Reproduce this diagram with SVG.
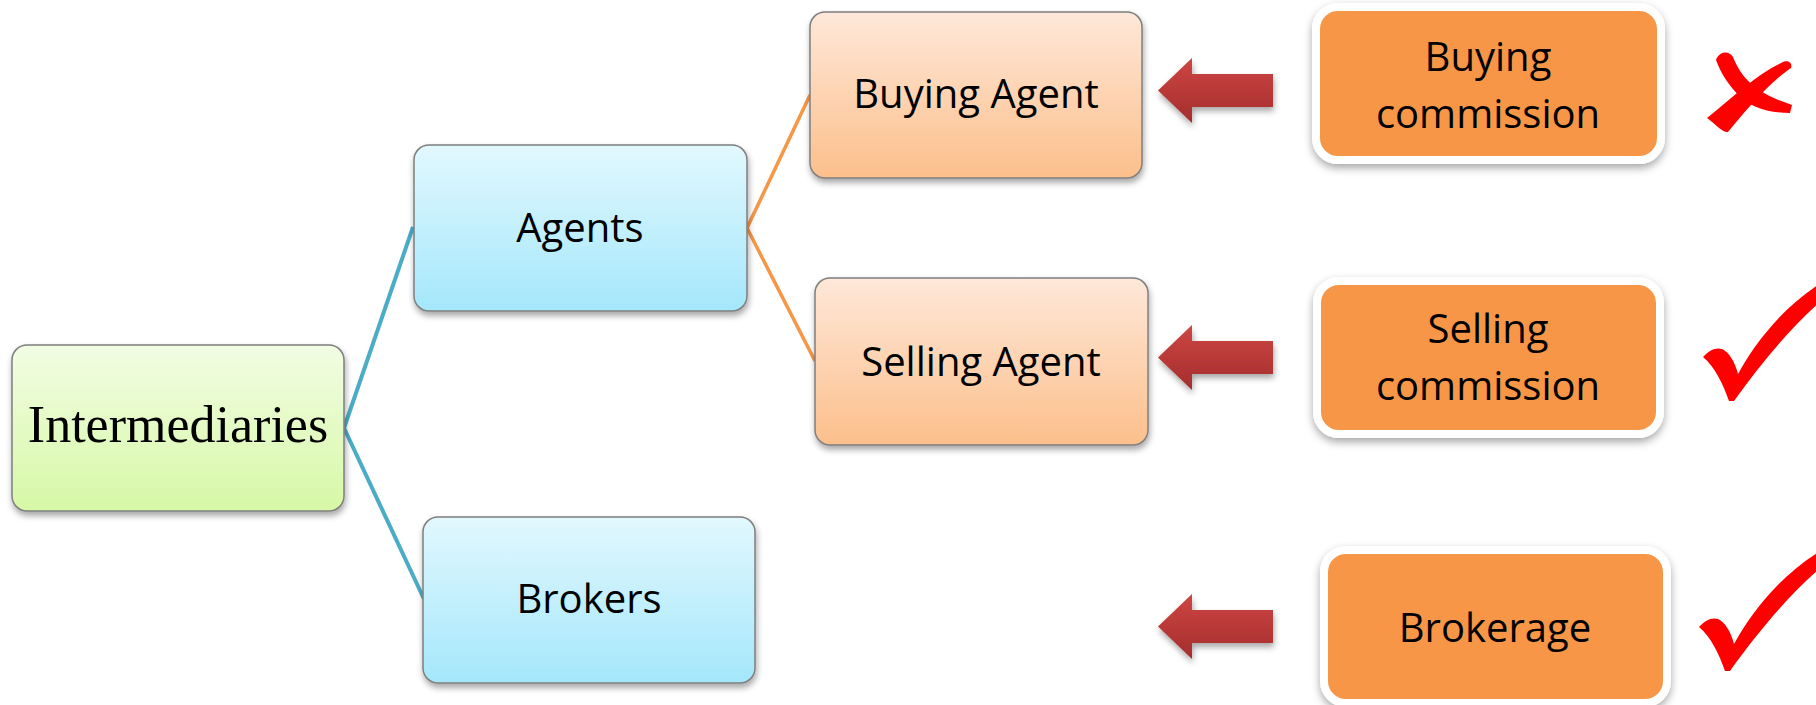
<svg xmlns="http://www.w3.org/2000/svg" width="1816" height="705" viewBox="0 0 1816 705">
  <defs>
    <linearGradient id="gGreen" x1="0" y1="0" x2="0" y2="1">
      <stop offset="0" stop-color="#f2fde4"/>
      <stop offset="1" stop-color="#d7f8a6"/>
    </linearGradient>
    <linearGradient id="gBlue" x1="0" y1="0" x2="0" y2="1">
      <stop offset="0" stop-color="#e2f8fe"/>
      <stop offset="1" stop-color="#a4e7fb"/>
    </linearGradient>
    <linearGradient id="gPeach" x1="0" y1="0" x2="0" y2="1">
      <stop offset="0" stop-color="#fee8d9"/>
      <stop offset="1" stop-color="#fcbf8b"/>
    </linearGradient>
    <linearGradient id="gRed" x1="0" y1="0" x2="0" y2="1">
      <stop offset="0" stop-color="#cd4643"/>
      <stop offset="1" stop-color="#a52d2d"/>
    </linearGradient>
    <filter id="shadow" x="-10%" y="-10%" width="120%" height="130%">
      <feDropShadow dx="1" dy="4" stdDeviation="3" flood-color="#000" flood-opacity="0.35"/>
    </filter>
    <filter id="shadow2" x="-10%" y="-10%" width="120%" height="130%">
      <feDropShadow dx="0" dy="4" stdDeviation="4" flood-color="#000" flood-opacity="0.35"/>
    </filter>
    <path id="arrow" d="M0,0 L34,-32.5 L34,-16.5 L115,-16.5 L115,16.5 L34,16.5 L34,32.5 Z"/>
    <path id="check" d="M0,0 C6,-7 13,-10 19,-8 C26,-5 32,5 35,17 C52,-14 80,-50 118,-74 L118,-56 C90,-32 58,6 31,44 L26,44 C20,27 12,10 0,0 Z"/>
  </defs>
  <style>
    .node { stroke: #7f7f7f; stroke-width: 1.5; filter: url(#shadow); }
    .comm { fill: #f79646; stroke: #ffffff; stroke-width: 8; filter: url(#shadow2); }
    .lbl { font-family: "Open Sans", "Liberation Sans", sans-serif; font-size: 40px; fill: #000; text-anchor: middle; }
    .serif { font-family: "Liberation Serif", "DejaVu Serif", serif; font-size: 52px; fill: #000; text-anchor: middle; }
    .mark { fill: #ff0000; }
  </style>

  <g id="connectors" fill="none">
    <polyline points="413,227 344,428 424,599" stroke="#4bacc6" stroke-width="4" stroke-linejoin="miter"/>
    <polyline points="810,95 747,228 815,361" stroke="#f79646" stroke-width="3.5" stroke-linejoin="miter"/>
  </g>

  <g id="node-intermediaries">
    <rect class="node" x="12" y="345" width="332" height="166" rx="15" fill="url(#gGreen)"/>
    <text class="serif" x="178" y="442">Intermediaries</text>
  </g>
  <g id="node-agents">
    <rect class="node" x="414" y="145" width="333" height="166" rx="15" fill="url(#gBlue)"/>
    <text class="lbl" x="580" y="242">Agents</text>
  </g>
  <g id="node-brokers">
    <rect class="node" x="423" y="517" width="332" height="166" rx="15" fill="url(#gBlue)"/>
    <text class="lbl" x="589" y="613">Brokers</text>
  </g>
  <g id="node-buying-agent">
    <rect class="node" x="810" y="12" width="332" height="166" rx="15" fill="url(#gPeach)"/>
    <text class="lbl" x="976" y="108">Buying Agent</text>
  </g>
  <g id="node-selling-agent">
    <rect class="node" x="815" y="278" width="333" height="167" rx="15" fill="url(#gPeach)"/>
    <text class="lbl" x="981" y="376">Selling Agent</text>
  </g>

  <g id="arrow-1" filter="url(#shadow)"><use href="#arrow" x="1158" y="90.5" fill="url(#gRed)"/></g>
  <g id="arrow-2" filter="url(#shadow)"><use href="#arrow" x="1158" y="357.5" fill="url(#gRed)"/></g>
  <g id="arrow-3" filter="url(#shadow)"><use href="#arrow" x="1158" y="626.5" fill="url(#gRed)"/></g>

  <g id="node-buying-commission">
    <rect class="comm" x="1316" y="7" width="345" height="153" rx="22"/>
    <text class="lbl" x="1488" y="71">Buying</text>
    <text class="lbl" x="1488" y="128">commission</text>
  </g>
  <g id="node-selling-commission">
    <rect class="comm" x="1317" y="281" width="343" height="153" rx="22"/>
    <text class="lbl" x="1488" y="343">Selling</text>
    <text class="lbl" x="1488" y="400">commission</text>
  </g>
  <g id="node-brokerage">
    <rect class="comm" x="1324" y="550" width="343" height="153" rx="22"/>
    <text class="lbl" x="1495" y="642">Brokerage</text>
  </g>

  <g id="mark-cross" class="mark">
    <path d="M1716,60 C1719,51 1729,50 1733,57 C1741,76 1752,92 1792,105 L1790,113 C1766,113 1749,106 1739,96 C1729,85 1721,74 1716,60 Z"/>
    <path d="M1781,63 C1787,59 1793,62 1791,68 C1770,82 1746,110 1728,132 C1723,133 1719,127 1707,118 C1732,98 1757,74 1781,63 Z"/>
  </g>
  <g id="mark-check-1" class="mark"><use href="#check" x="1703" y="357"/></g>
  <g id="mark-check-2" class="mark"><use href="#check" x="1699" y="627"/></g>
</svg>
